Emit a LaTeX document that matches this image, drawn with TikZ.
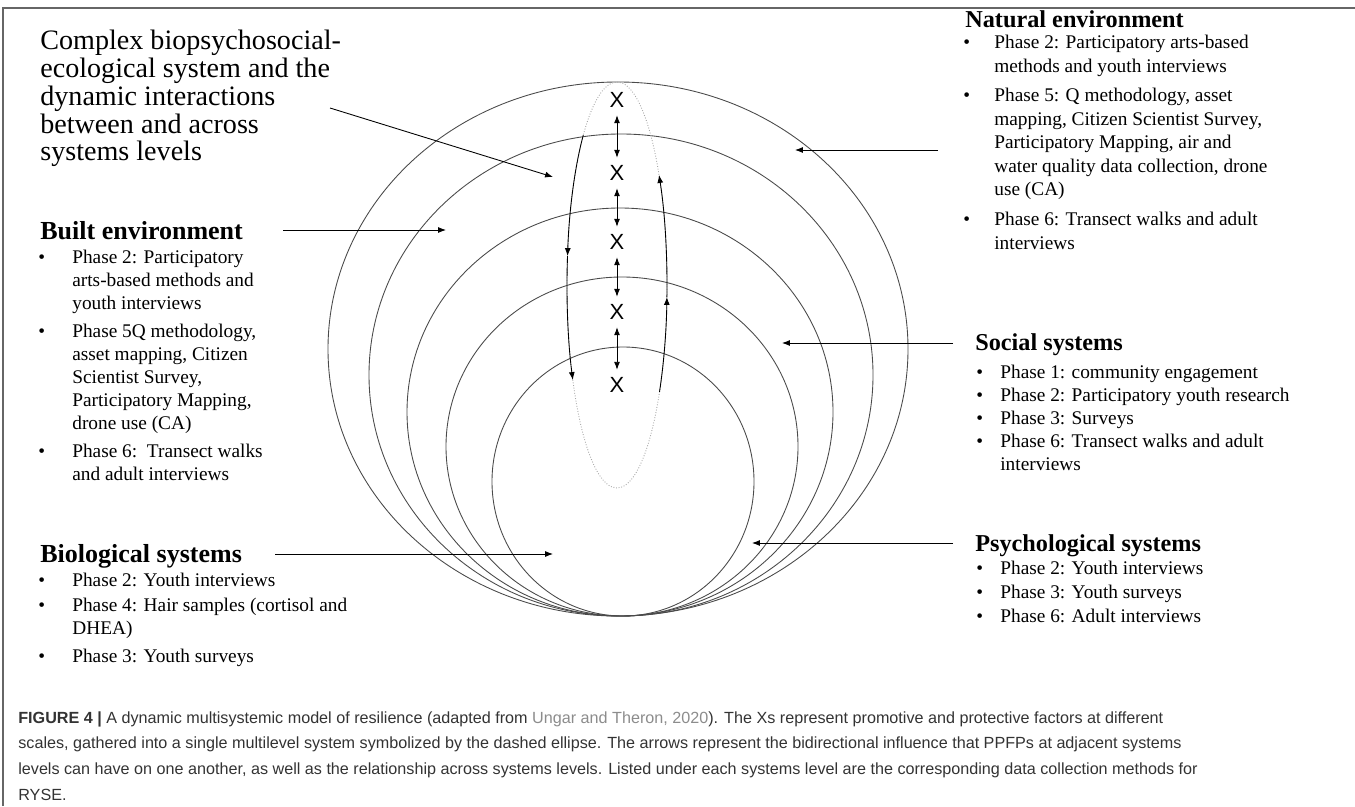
\documentclass[tikz,border=0pt]{standalone}
\usepackage{fontspec}
\setmainfont{Liberation Serif}
\newfontfamily\capfont{Liberation Sans}
\usepackage{xcolor}
\usetikzlibrary{arrows.meta}
\definecolor{ringgray}{HTML}{4A4A4A}
\definecolor{capgray}{HTML}{333333}
\definecolor{linkgray}{HTML}{8C8C8C}
\newcommand{\bul}[1][0.68cm]{\makebox[#1][l]{\textbullet}}
\newcommand{\cnt}[1][0.68cm]{\hspace*{#1}}

\begin{document}
\begin{tikzpicture}[x=0.02cm, y=0.02cm,
  ring/.style={draw=ringgray, line width=0.5pt},
  pointer/.style={-{Latex[length=4.5pt,width=3.4pt]}, line width=0.5pt},
  twoway/.style={{Latex[length=4.5pt,width=3.4pt]}-{Latex[length=4.5pt,width=3.4pt]}, line width=0.5pt},
  head/.style={anchor=west, inner sep=0pt, text depth=0pt, font=\bfseries\fontsize{14.8}{17}\selectfont},
  rhead/.style={head, font=\bfseries\fontsize{13.8}{16}\selectfont},
  items/.style={anchor=north west, inner sep=0pt, align=left, font=\fontsize{11}{13.1}\selectfont},
  factor/.style={inner sep=4.2pt, font=\capfont\fontsize{12.5}{14}\selectfont}]
\useasboundingbox (0,0) rectangle (1355,806);
\draw[black!60, line width=0.6pt] (3,0) -- (3,798) -- (1355,798);

\foreach \cx/\cy/\rx/\ry in {618/457/290/267, 621/431/252/241, 620/394/213/204, 622/359.5/176/169.5, 623/324.5/131/134.5}
  \draw[ring] (\cx,\cy) ellipse [x radius=\rx, y radius=\ry];

\coordinate (core) at (617,521);
\draw[gray!70, densely dotted, line width=0.5pt] (core) ellipse [x radius=50, y radius=203];

\foreach \n/\y in {1/706, 2/633, 3/564, 4/494, 5/421}
  \node[factor] (x\n) at (617,\y) {X};
\foreach \a/\b in {1/2, 2/3, 3/4, 4/5}
  \draw[twoway] (x\a) -- (x\b);

\draw[pointer] ([shift={(132.4:50 and 203)}]core) arc[start angle=132.4, end angle=171.8, x radius=50, y radius=203];
\draw[pointer] ([shift={(171.8:50 and 203)}]core) arc[start angle=171.8, end angle=207.9, x radius=50, y radius=203];
\draw[pointer] ([shift={(-31.8:50 and 203)}]core) arc[start angle=-31.8, end angle=-3.4, x radius=50, y radius=203];
\draw[pointer] ([shift={(-3.4:50 and 203)}]core) arc[start angle=-3.4, end angle=32.8, x radius=50, y radius=203];

\node[anchor=north west, inner sep=0pt, align=left, font=\fontsize{16}{15.8}\selectfont] (complex) at (40,776)
  {Complex biopsychosocial-\\ecological system and the\\dynamic interactions\\between and across\\systems levels};
\coordinate (scomplex) at (330,698);
\coordinate (tcomplex) at (553,629);
\draw[pointer] (scomplex) -- (tcomplex);

\node[head] (hbuilt) at (40,576) {Built environment};
\node[items] (lbuilt) at (38,556)
  {\bul Phase 2: Participatory\\\cnt arts-based methods and\\\cnt youth interviews\\[2.8pt]%
   \bul Phase 5Q methodology,\\\cnt asset mapping, Citizen\\\cnt Scientist Survey,\\\cnt Participatory Mapping,\\\cnt drone use (CA)\\[2.8pt]%
   \bul Phase 6:\ \ Transect walks\\\cnt and adult interviews};
\coordinate (sbuilt) at (283,576);
\coordinate (tbuilt) at (446,576);
\draw[pointer] (sbuilt) -- (tbuilt);

\node[head] (hbio) at (40,253) {Biological systems};
\node[items] (lbio) at (38,233)
  {\bul Phase 2: Youth interviews\\[1.1pt]%
   \bul Phase 4: Hair samples (cortisol and\\\cnt DHEA)\\[2.8pt]%
   \bul Phase 3: Youth surveys};
\coordinate (sbio) at (275,252);
\coordinate (tbio) at (553,252);
\draw[pointer] (sbio) -- (tbio);

\node[rhead] (hnat) at (965,787) {Natural environment};
\node[items, font=\fontsize{11}{13.4}\selectfont] (lnat) at (963,771)
  {\bul[0.62cm]Phase 2: Participatory arts-based\\\cnt[0.62cm]methods and youth interviews\\[3.4pt]%
   \bul[0.62cm]Phase 5: Q methodology, asset\\\cnt[0.62cm]mapping, Citizen Scientist Survey,\\\cnt[0.62cm]Participatory Mapping, air and\\\cnt[0.62cm]water quality data collection, drone\\\cnt[0.62cm]use (CA)\\[3.4pt]%
   \bul[0.62cm]Phase 6: Transect walks and adult\\\cnt[0.62cm]interviews};
\coordinate (snat) at (938,656);
\coordinate (tnat) at (795,656);
\draw[pointer] (snat) -- (tnat);

\node[rhead] (hsoc) at (975,464) {Social systems};
\node[items] (lsoc) at (976,441)
  {\bul[0.48cm]Phase 1: community engagement\\\bul[0.48cm]Phase 2: Participatory youth research\\%
   \bul[0.48cm]Phase 3: Surveys\\\bul[0.48cm]Phase 6: Transect walks and adult\\\cnt[0.48cm]interviews};
\coordinate (ssoc) at (953,463);
\coordinate (tsoc) at (782,463);
\draw[pointer] (ssoc) -- (tsoc);

\node[rhead] (hpsy) at (975,263) {Psychological systems};
\node[items] (lpsy) at (976,245)
  {\bul[0.48cm]Phase 2: Youth interviews\\[0.6pt]\bul[0.48cm]Phase 3: Youth surveys\\[0.6pt]\bul[0.48cm]Phase 6: Adult interviews};
\coordinate (spsy) at (953,263);
\coordinate (tpsy) at (752,263);
\draw[pointer] (spsy) -- (tpsy);

\node[anchor=north west, inner sep=0pt, align=left, text=capgray, font=\capfont\fontsize{9.2}{14.6}\selectfont] (caption) at (18,95)
  {\textbf{FIGURE 4 |} A dynamic multisystemic model of resilience (adapted from \textcolor{linkgray}{Ungar and Theron, 2020}). The Xs represent promotive and protective factors at different\\
   scales, gathered into a single multilevel system symbolized by the dashed ellipse. The arrows represent the bidirectional influence that PPFPs at adjacent systems\\
   levels can have on one another, as well as the relationship across systems levels. Listed under each systems level are the corresponding data collection methods for\\
   RYSE.};
\end{tikzpicture}
\end{document}
